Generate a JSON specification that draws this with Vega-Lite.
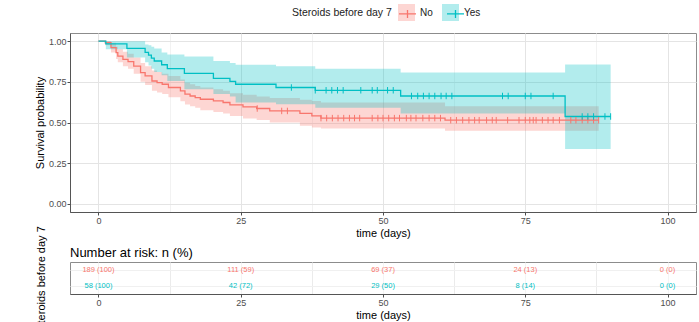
{
  "$schema": "https://vega.github.io/schema/vega-lite/v6.json",
  "padding": {"left": 33, "top": 4, "right": 2, "bottom": 0},
  "bounds": "flush",
  "spacing": 50,
  "datasets": {
    "curve": [
      {"g":"No","t":0,"s":1,"lo":1,"hi":1},
      {"g":"No","t":1.2,"s":0.99,"lo":0.975,"hi":1.0},
      {"g":"No","t":2.2,"s":0.96,"lo":0.93,"hi":0.99},
      {"g":"No","t":3.1,"s":0.929,"lo":0.89,"hi":0.965},
      {"g":"No","t":3.4,"s":0.908,"lo":0.87,"hi":0.95},
      {"g":"No","t":4.3,"s":0.888,"lo":0.845,"hi":0.935},
      {"g":"No","t":5.2,"s":0.874,"lo":0.83,"hi":0.923},
      {"g":"No","t":6.2,"s":0.847,"lo":0.80,"hi":0.90},
      {"g":"No","t":7.4,"s":0.806,"lo":0.75,"hi":0.865},
      {"g":"No","t":8.2,"s":0.786,"lo":0.73,"hi":0.845},
      {"g":"No","t":9.4,"s":0.755,"lo":0.695,"hi":0.82},
      {"g":"No","t":10.3,"s":0.745,"lo":0.685,"hi":0.81},
      {"g":"No","t":11.2,"s":0.735,"lo":0.675,"hi":0.80},
      {"g":"No","t":12.3,"s":0.715,"lo":0.655,"hi":0.785},
      {"g":"No","t":14.4,"s":0.694,"lo":0.63,"hi":0.765},
      {"g":"No","t":15.2,"s":0.674,"lo":0.61,"hi":0.745},
      {"g":"No","t":16.1,"s":0.663,"lo":0.60,"hi":0.735},
      {"g":"No","t":17.0,"s":0.653,"lo":0.59,"hi":0.725},
      {"g":"No","t":17.9,"s":0.643,"lo":0.575,"hi":0.715},
      {"g":"No","t":20.2,"s":0.633,"lo":0.565,"hi":0.704},
      {"g":"No","t":21.9,"s":0.623,"lo":0.555,"hi":0.695},
      {"g":"No","t":23.1,"s":0.608,"lo":0.54,"hi":0.68},
      {"g":"No","t":25.4,"s":0.596,"lo":0.525,"hi":0.67},
      {"g":"No","t":27.8,"s":0.586,"lo":0.515,"hi":0.66},
      {"g":"No","t":30.1,"s":0.571,"lo":0.50,"hi":0.65},
      {"g":"No","t":35.4,"s":0.556,"lo":0.48,"hi":0.64},
      {"g":"No","t":37.5,"s":0.541,"lo":0.47,"hi":0.632},
      {"g":"No","t":39.1,"s":0.527,"lo":0.463,"hi":0.623},
      {"g":"No","t":60.9,"s":0.514,"lo":0.449,"hi":0.60},
      {"g":"No","t":87.9,"s":0.514,"lo":0.449,"hi":0.60},
      {"g":"Yes","t":0,"s":1,"lo":1,"hi":1},
      {"g":"Yes","t":1.3,"s":0.983,"lo":0.95,"hi":1.0},
      {"g":"Yes","t":5.0,"s":0.955,"lo":0.90,"hi":1.0},
      {"g":"Yes","t":8.2,"s":0.931,"lo":0.87,"hi":0.98},
      {"g":"Yes","t":8.8,"s":0.914,"lo":0.85,"hi":0.975},
      {"g":"Yes","t":9.3,"s":0.895,"lo":0.83,"hi":0.966},
      {"g":"Yes","t":9.8,"s":0.878,"lo":0.81,"hi":0.955},
      {"g":"Yes","t":11.1,"s":0.855,"lo":0.79,"hi":0.93},
      {"g":"Yes","t":12.1,"s":0.831,"lo":0.755,"hi":0.918},
      {"g":"Yes","t":15.1,"s":0.802,"lo":0.704,"hi":0.905},
      {"g":"Yes","t":20.2,"s":0.771,"lo":0.675,"hi":0.878},
      {"g":"Yes","t":23.1,"s":0.753,"lo":0.66,"hi":0.865},
      {"g":"Yes","t":24.1,"s":0.735,"lo":0.623,"hi":0.855},
      {"g":"Yes","t":31.2,"s":0.715,"lo":0.612,"hi":0.845},
      {"g":"Yes","t":38.1,"s":0.698,"lo":0.59,"hi":0.83},
      {"g":"Yes","t":53.1,"s":0.663,"lo":0.556,"hi":0.807},
      {"g":"Yes","t":82.0,"s":0.537,"lo":0.337,"hi":0.857},
      {"g":"Yes","t":90.0,"s":0.537,"lo":0.337,"hi":0.857}
    ],
    "censor": [
      {"g":"No","t":27.9,"s":0.586},{"g":"No","t":32.2,"s":0.571},{"g":"No","t":33.2,"s":0.571},
      {"g":"No","t":39.1,"s":0.527},{"g":"No","t":40.1,"s":0.527},{"g":"No","t":41.1,"s":0.527},{"g":"No","t":42.1,"s":0.527},
      {"g":"No","t":43.1,"s":0.527},{"g":"No","t":44.1,"s":0.527},{"g":"No","t":45.0,"s":0.527},{"g":"No","t":45.9,"s":0.527},
      {"g":"No","t":48.1,"s":0.527},{"g":"No","t":49.1,"s":0.527},{"g":"No","t":50.0,"s":0.527},{"g":"No","t":51.0,"s":0.527},
      {"g":"No","t":52.0,"s":0.527},{"g":"No","t":52.9,"s":0.527},{"g":"No","t":54.1,"s":0.527},{"g":"No","t":54.9,"s":0.527},
      {"g":"No","t":55.8,"s":0.527},{"g":"No","t":57.0,"s":0.527},{"g":"No","t":58.1,"s":0.527},{"g":"No","t":59.1,"s":0.527},
      {"g":"No","t":60.1,"s":0.527},
      {"g":"No","t":61.9,"s":0.514},{"g":"No","t":62.9,"s":0.514},{"g":"No","t":64.0,"s":0.514},{"g":"No","t":65.1,"s":0.514},
      {"g":"No","t":66.1,"s":0.514},{"g":"No","t":66.9,"s":0.514},{"g":"No","t":68.2,"s":0.514},{"g":"No","t":69.2,"s":0.514},
      {"g":"No","t":69.9,"s":0.514},{"g":"No","t":71.9,"s":0.514},{"g":"No","t":73.9,"s":0.514},{"g":"No","t":75.0,"s":0.514},
      {"g":"No","t":75.8,"s":0.514},{"g":"No","t":76.4,"s":0.514},{"g":"No","t":76.9,"s":0.514},{"g":"No","t":78.0,"s":0.514},
      {"g":"No","t":79.0,"s":0.514},{"g":"No","t":79.9,"s":0.514},{"g":"No","t":81.0,"s":0.514},{"g":"No","t":83.0,"s":0.514},
      {"g":"No","t":83.9,"s":0.514},{"g":"No","t":85.0,"s":0.514},{"g":"No","t":86.0,"s":0.514},{"g":"No","t":87.0,"s":0.514},
      {"g":"No","t":87.9,"s":0.514},
      {"g":"Yes","t":33.9,"s":0.715},{"g":"Yes","t":38.1,"s":0.698},{"g":"Yes","t":40.0,"s":0.698},{"g":"Yes","t":41.0,"s":0.698},
      {"g":"Yes","t":42.0,"s":0.698},{"g":"Yes","t":43.0,"s":0.698},{"g":"Yes","t":46.1,"s":0.698},{"g":"Yes","t":48.1,"s":0.698},
      {"g":"Yes","t":49.0,"s":0.698},{"g":"Yes","t":50.8,"s":0.698},{"g":"Yes","t":51.8,"s":0.698},
      {"g":"Yes","t":55.0,"s":0.663},{"g":"Yes","t":56.1,"s":0.663},{"g":"Yes","t":57.1,"s":0.663},{"g":"Yes","t":58.1,"s":0.663},
      {"g":"Yes","t":59.1,"s":0.663},{"g":"Yes","t":60.2,"s":0.663},{"g":"Yes","t":61.1,"s":0.663},{"g":"Yes","t":62.1,"s":0.663},
      {"g":"Yes","t":71.0,"s":0.663},{"g":"Yes","t":72.0,"s":0.663},{"g":"Yes","t":75.0,"s":0.663},{"g":"Yes","t":76.0,"s":0.663},
      {"g":"Yes","t":79.9,"s":0.663},
      {"g":"Yes","t":85.0,"s":0.537},{"g":"Yes","t":86.0,"s":0.537},{"g":"Yes","t":87.0,"s":0.537},{"g":"Yes","t":89.0,"s":0.537},
      {"g":"Yes","t":90.0,"s":0.537}
    ],
    "risk": [
      {"g":"No","t":0,"label":"189 (100)"},{"g":"No","t":25,"label":"111 (59)"},{"g":"No","t":50,"label":"69 (37)"},
      {"g":"No","t":75,"label":"24 (13)"},{"g":"No","t":100,"label":"0 (0)"},
      {"g":"Yes","t":0,"label":"58 (100)"},{"g":"Yes","t":25,"label":"42 (72)"},{"g":"Yes","t":50,"label":"29 (50)"},
      {"g":"Yes","t":75,"label":"8 (14)"},{"g":"Yes","t":100,"label":"0 (0)"}
    ]
  },
  "config": {
    "font": "Liberation Sans",
    "view": {"stroke": "#8c8c8c", "strokeWidth": 1},
    "axis": {
      "labelFont": "Liberation Sans", "labelFontSize": 9, "labelColor": "#4d4d4d",
      "titleFont": "Liberation Sans", "titleFontSize": 11, "titleFontWeight": "normal", "titleColor": "#000000",
      "tickColor": "#4d4d4d", "domainColor": "#555555", "tickSize": 3, "labelPadding": 1
    },
    "legend": {"labelFont": "Liberation Sans", "titleFont": "Liberation Sans"}
  },
  "resolve": {"scale": {"x": "independent", "y": "independent", "color": "independent"}},
  "vconcat": [
    {
      "width": 626,
      "height": 179,
      "layer": [
        {
          "data": {"name": "curve"},
          "mark": {"type": "area", "interpolate": "step-after", "fillOpacity": 0.3},
          "encoding": {
            "x": {"field": "t", "type": "quantitative",
              "scale": {"domain": [-5, 105], "nice": false, "zero": false},
              "axis": {"values": [0, 12.5, 25, 37.5, 50, 62.5, 75, 87.5, 100], "format": "d",
                "labelExpr": "datum.value % 25 === 0 ? datum.label : ''",
                "gridColor": {"condition": {"test": "datum.value % 25 === 0", "value": "#e4e4e4"}, "value": "#f2f2f2"},
                "tickOpacity": {"condition": {"test": "datum.value % 25 === 0", "value": 1}, "value": 0},
                "title": "time (days)", "titlePadding": 2}},
            "y": {"field": "lo", "type": "quantitative",
              "scale": {"domain": [-0.05, 1.05], "nice": false, "zero": false},
              "axis": {"values": [0, 0.125, 0.25, 0.375, 0.5, 0.625, 0.75, 0.875, 1], "format": ".2f",
                "labelExpr": "datum.value % 0.25 === 0 ? datum.label : ''",
                "gridColor": {"condition": {"test": "datum.value % 0.25 === 0", "value": "#e4e4e4"}, "value": "#f2f2f2"},
                "tickOpacity": {"condition": {"test": "datum.value % 0.25 === 0", "value": 1}, "value": 0},
                "title": "Survival probability", "titlePadding": 3}},
            "y2": {"field": "hi"},
            "fill": {"field": "g", "type": "nominal",
              "scale": {"domain": ["No", "Yes"], "range": ["#F8766D", "#00BFC4"]},
              "legend": {"orient": "none", "legendX": 222, "legendY": -29, "direction": "horizontal",
                "titleOrient": "left", "title": "Steroids before day 7", "titleFontSize": 10.5,
                "titleFontWeight": "normal", "titleColor": "#222222", "titleBaseline": "middle", "titlePadding": 6,
                "labelFontSize": 10, "labelColor": "#222222", "labelOffset": 5, "columnPadding": 9,
                "symbolType": "square", "symbolSize": 289, "symbolOpacity": 0.3, "symbolStrokeWidth": 0}}
          }
        },
        {
          "data": {"name": "curve"},
          "mark": {"type": "line", "interpolate": "step-after", "strokeWidth": 1.3},
          "encoding": {
            "x": {"field": "t", "type": "quantitative"},
            "y": {"field": "s", "type": "quantitative"},
            "stroke": {"field": "g", "type": "nominal",
              "scale": {"range": ["#F8766D", "#00BFC4"]},
              "legend": {"orient": "none", "legendX": 222, "legendY": -29, "direction": "horizontal",
                "titleOrient": "left", "title": "Steroids before day 7", "titleFontSize": 10.5,
                "titleFontWeight": "normal", "titleOpacity": 0, "titleBaseline": "middle", "titlePadding": 6,
                "labelFontSize": 10, "labelExpr": "''", "labelOffset": 5, "columnPadding": 22,
                "symbolType": "M-1,0H1M0,-0.47V0.47", "symbolSize": 289, "symbolStrokeWidth": 1.3,
                "symbolFillColor": "transparent"}}
          }
        },
        {
          "data": {"name": "censor"},
          "mark": {"type": "point", "shape": "M0,-1V1", "size": 42, "strokeWidth": 1, "filled": false, "opacity": 1},
          "encoding": {
            "x": {"field": "t", "type": "quantitative"},
            "y": {"field": "s", "type": "quantitative"},
            "stroke": {"field": "g", "type": "nominal"}
          }
        }
      ]
    },
    {
      "width": 626,
      "height": 32,
      "title": {"text": "Number at risk: n (%)", "anchor": "start", "frame": "group", "fontSize": 13,
        "fontWeight": "normal", "font": "Liberation Sans", "color": "#000000", "offset": 4, "dy": 38},
      "data": {"name": "risk"},
      "mark": {"type": "text", "fontSize": 7.5, "font": "Liberation Sans"},
      "encoding": {
        "x": {"field": "t", "type": "quantitative",
          "scale": {"domain": [-5, 105], "nice": false, "zero": false},
          "axis": {"values": [0, 12.5, 25, 37.5, 50, 62.5, 75, 87.5, 100], "format": "d",
            "labelExpr": "datum.value % 25 === 0 ? datum.label : ''",
            "gridColor": {"condition": {"test": "datum.value % 25 === 0", "value": "#f4f4f4"}, "value": "#ebebeb"},
            "tickOpacity": {"condition": {"test": "datum.value % 25 === 0", "value": 1}, "value": 0},
            "title": "time (days)", "titlePadding": 2}},
        "y": {"field": "g", "type": "nominal",
          "scale": {"domain": ["No", "Yes"], "paddingInner": 0, "paddingOuter": 0},
          "axis": {"labels": false, "ticks": false, "domain": false, "grid": true, "bandPosition": 0.5,
            "gridColor": "#f0f0f0", "title": "Steroids before day 7", "titlePadding": 24}},
        "text": {"field": "label"},
        "color": {"field": "g", "type": "nominal",
          "scale": {"domain": ["No", "Yes"], "range": ["#F8766D", "#00BFC4"]}, "legend": null}
      }
    }
  ]
}
